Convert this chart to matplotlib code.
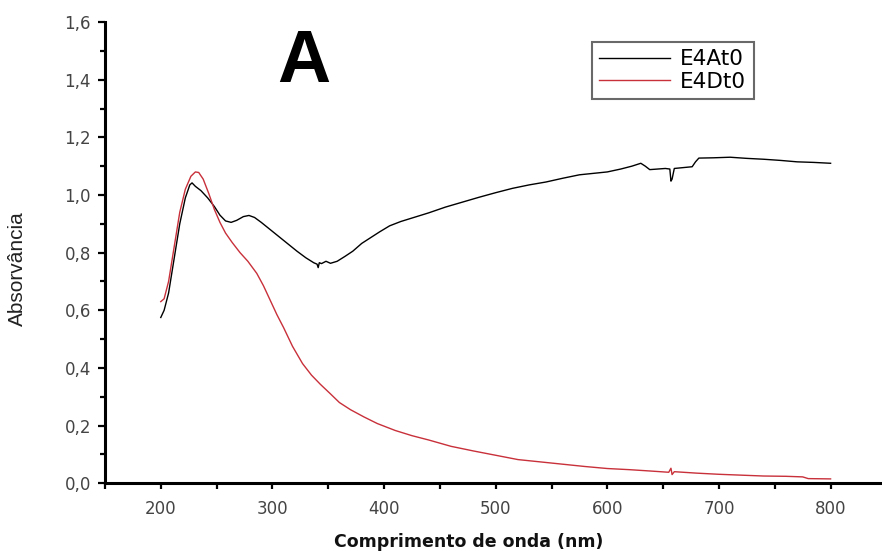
import matplotlib
matplotlib.use('Agg')
import matplotlib.pyplot as plt
from matplotlib.ticker import MultipleLocator

# Data
wl_a = [200, 203, 207, 212, 217, 222, 226, 228, 231, 236, 242, 248, 253, 258, 263, 268,
        274, 279, 284, 290, 298, 306, 314, 322, 330, 337, 340, 341, 342, 344, 348, 352,
        358, 365, 372, 380, 388, 396, 405, 415, 425, 440, 455, 470, 485, 500, 515, 530,
        545, 560, 575, 590, 600, 612, 622, 630, 634, 638, 645, 652, 656, 657, 658, 660,
        668, 676, 679, 682, 695, 710, 725, 740, 755, 770, 785, 800]
abs_a = [0.575, 0.600, 0.660, 0.780, 0.900, 0.990, 1.035, 1.042, 1.030, 1.015, 0.990, 0.960,
         0.930, 0.910, 0.905, 0.912, 0.925, 0.929, 0.922, 0.905, 0.880, 0.855, 0.830, 0.805,
         0.782, 0.765, 0.760, 0.748, 0.765, 0.762, 0.770, 0.763, 0.770, 0.787, 0.805, 0.832,
         0.852, 0.872, 0.893, 0.908, 0.920, 0.938, 0.958, 0.975, 0.992, 1.008, 1.023, 1.035,
         1.045, 1.058, 1.070, 1.076, 1.080, 1.090, 1.100, 1.110, 1.100, 1.088, 1.090, 1.092,
         1.090, 1.048, 1.055, 1.092, 1.095, 1.098, 1.115, 1.128, 1.129, 1.131, 1.127, 1.124,
         1.120, 1.115, 1.113, 1.110]

wl_d = [200, 203, 207, 212, 217, 222, 227, 231, 234, 238, 243, 248, 253, 258, 264, 271,
        278, 286, 292, 298, 304, 310, 318, 327, 335, 343, 352, 360, 370, 382, 394, 410,
        425, 440, 460, 480, 500, 520, 540, 560, 580, 600, 620, 640, 655, 657, 658, 660,
        680, 700, 720, 740, 760, 775, 780, 800]
abs_d = [0.630, 0.640, 0.700, 0.820, 0.940, 1.020, 1.065, 1.080, 1.078, 1.055, 1.005, 0.950,
         0.905, 0.868, 0.835, 0.800, 0.770, 0.728, 0.685, 0.635, 0.585, 0.540, 0.475, 0.415,
         0.375, 0.343, 0.310, 0.280, 0.255, 0.230, 0.207, 0.183, 0.165, 0.150, 0.128, 0.112,
         0.097, 0.082, 0.074, 0.066, 0.058, 0.051, 0.047, 0.042, 0.038, 0.052, 0.030, 0.040,
         0.035, 0.031, 0.028, 0.025, 0.024, 0.022, 0.016, 0.015]

labels = ['E4At0', 'E4Dt0']
xticks = [200, 300, 400, 500, 600, 700, 800]
yticks = [0.0, 0.2, 0.4, 0.6, 0.8, 1.0, 1.2, 1.4, 1.6]
ytick_labels = ['0,0', '0,2', '0,4', '0,6', '0,8', '1,0', '1,2', '1,4', '1,6']

fig = plt.figure(figsize=(8.82, 5.51), dpi=100)
ax = fig.add_axes([0.119, 0.123, 0.886, 0.837])

ax.plot(wl_a, abs_a, color='black', linewidth=1.0, label=labels[0])
ax.plot(wl_d, abs_d, color='#c8303a', linewidth=1.0, label=labels[1])

ax.set_xlim(150, 850)
ax.set_ylim(0, 1.6)
ax.set_xticks(xticks)
ax.set_xticklabels([str(v) for v in xticks])
ax.set_yticks(yticks)
ax.set_yticklabels(ytick_labels)
ax.xaxis.set_minor_locator(MultipleLocator(50))
ax.yaxis.set_minor_locator(MultipleLocator(0.1))

for s in ['top', 'right']:
    ax.spines[s].set_visible(False)
for s in ['left', 'bottom']:
    ax.spines[s].set_linewidth(2.2)

ax.tick_params(axis='both', which='both', direction='out', width=1.6,
               labelsize=12, labelcolor='#444444')
ax.tick_params(axis='y', which='major', length=5, pad=5)
ax.tick_params(axis='y', which='minor', length=3.5)
ax.tick_params(axis='x', which='major', length=4, pad=8)
ax.tick_params(axis='x', which='minor', length=4)

ax.set_xlabel('Comprimento de onda (nm)', fontsize=12.5, fontweight='bold', color='#111111')
ax.xaxis.set_label_coords(0.466, -0.108)
ax.set_ylabel('Absorvância', fontsize=15, family='Liberation Sans', color='#222222')
ax.yaxis.set_label_coords(-0.1, 0.465)

leg = ax.legend(loc='upper left', bbox_to_anchor=(0.671, 0.924),
                bbox_transform=fig.transFigure, fontsize=15.5, frameon=True,
                fancybox=False, handlelength=3.3, handletextpad=0.45,
                labelspacing=0.1, borderpad=0.35, borderaxespad=0)
leg.get_frame().set_edgecolor('#444444')
leg.get_frame().set_linewidth(1.5)

fig.text(0.344, 0.851, 'A', fontsize=53, fontweight='bold',
         family='Liberation Sans', ha='center', va='baseline')

fig.savefig('out.png', dpi=100)
